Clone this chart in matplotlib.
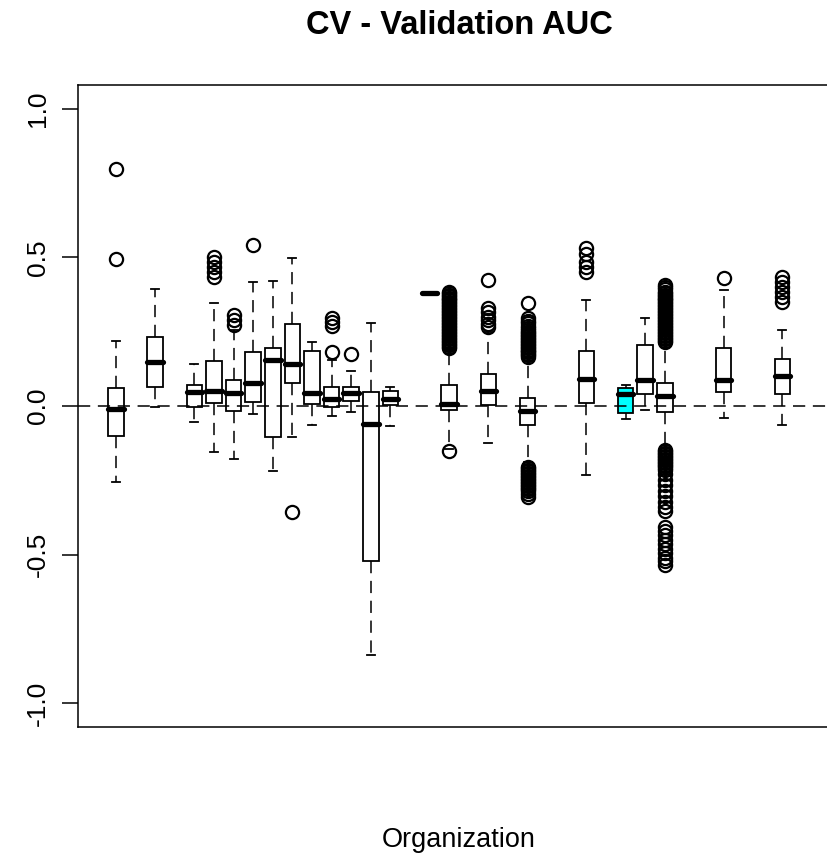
import numpy as np
import matplotlib
matplotlib.use("Agg")
import matplotlib.pyplot as plt

plt.rcParams["font.family"] = ["Liberation Sans", "DejaVu Sans"]

# 36 organisations on the x axis, only some of them have results
n_orgs = 36
positions = [1, 3, 5, 6, 7, 8, 9, 10, 11, 12, 13, 14, 15, 17, 18, 20, 22, 25, 27, 28, 29, 32, 35]

whislo = [-0.255, -0.004, -0.054, -0.155, -0.179, -0.028, -0.220, -0.103, -0.064, -0.034, -0.021,
          -0.838, -0.068, 0.379, -0.143, -0.123, -0.190, -0.232, -0.043, -0.012, -0.140, -0.040, -0.064]
q1 = [-0.100, 0.063, -0.003, 0.011, -0.017, 0.013, -0.104, 0.078, 0.007, -0.003, 0.016,
      -0.520, 0.005, 0.379, -0.014, 0.002, -0.064, 0.011, -0.023, 0.042, -0.019, 0.047, 0.042]
med = [-0.009, 0.148, 0.046, 0.051, 0.044, 0.078, 0.156, 0.141, 0.044, 0.022, 0.044,
       -0.062, 0.025, 0.379, 0.008, 0.052, -0.017, 0.091, 0.039, 0.089, 0.033, 0.087, 0.100]
q3 = [0.059, 0.231, 0.069, 0.153, 0.089, 0.180, 0.195, 0.276, 0.186, 0.063, 0.063,
      0.046, 0.052, 0.379, 0.069, 0.108, 0.027, 0.184, 0.061, 0.206, 0.078, 0.195, 0.159]
whishi = [0.219, 0.393, 0.142, 0.347, 0.255, 0.418, 0.421, 0.499, 0.215, 0.156, 0.117,
          0.279, 0.063, 0.379, 0.190, 0.250, 0.160, 0.357, 0.072, 0.295, 0.205, 0.390, 0.256]

fliers = [
    [0.496, 0.796],
    [],
    [],
    [0.435, 0.452, 0.468, 0.485, 0.500],
    [0.272, 0.288, 0.305],
    [0.541],
    [],
    [-0.358],
    [],
    [0.182, 0.270, 0.281, 0.295],
    [0.175],
    [],
    [],
    [],
    [-0.152,
     0.195, 0.200, 0.205, 0.210, 0.215, 0.220, 0.225, 0.230, 0.235, 0.240,
     0.245, 0.250, 0.255, 0.260, 0.265, 0.270, 0.275, 0.280, 0.285, 0.290,
     0.295, 0.300, 0.305, 0.310, 0.315, 0.320, 0.325, 0.330, 0.335, 0.340,
     0.345, 0.350, 0.355, 0.360, 0.365, 0.370, 0.375, 0.380, 0.385],
    [0.265, 0.275, 0.290, 0.300, 0.315, 0.330, 0.424],
    [0.165, 0.170, 0.175, 0.180, 0.185, 0.190, 0.195, 0.200, 0.205, 0.210,
     0.215, 0.220, 0.225, 0.230, 0.235, 0.240, 0.245, 0.250, 0.255, 0.262,
     0.270, 0.278, 0.287, 0.296, 0.346,
     -0.205, -0.210, -0.215, -0.220, -0.225, -0.230, -0.235, -0.240, -0.245, -0.250,
     -0.255, -0.260, -0.265, -0.270, -0.275, -0.280, -0.287, -0.295, -0.305],
    [0.452, 0.468, 0.485, 0.513, 0.530],
    [],
    [],
    [0.215, 0.220, 0.225, 0.230, 0.235, 0.240, 0.245, 0.250, 0.255, 0.260,
     0.265, 0.270, 0.275, 0.280, 0.285, 0.290, 0.295, 0.300, 0.305, 0.310,
     0.315, 0.320, 0.325, 0.330, 0.335, 0.340, 0.345, 0.350, 0.355, 0.360,
     0.365, 0.370, 0.375, 0.380, 0.385, 0.392, 0.400, 0.408,
     -0.147, -0.152, -0.157, -0.162, -0.167, -0.172, -0.177, -0.182, -0.187, -0.192,
     -0.197, -0.202, -0.207, -0.214, -0.230, -0.248, -0.266, -0.285, -0.304, -0.322,
     -0.340, -0.352,
     -0.406, -0.420, -0.435, -0.450, -0.465, -0.480, -0.495, -0.510, -0.523, -0.535],
    [0.429],
    [0.351, 0.368, 0.385, 0.401, 0.418, 0.435],
]

highlight_org = 27

yticks = [-1.0, -0.5, 0.0, 0.5, 1.0]
ytick_labels = ["-1.0", "-0.5", "0.0", "0.5", "1.0"]

stats = []
for i in range(len(positions)):
    stats.append(dict(whislo=whislo[i], q1=q1[i], med=med[i], q3=q3[i],
                      whishi=whishi[i], fliers=fliers[i]))

fig = plt.figure(figsize=(8.27, 8.57), dpi=100)
# axes run past the right edge of the canvas
ax = fig.add_axes([78 / 827, 130 / 857, 762 / 827, 642 / 857])

dash = (0, (8, 5))
bp = ax.bxp(
    stats,
    positions=positions,
    widths=0.8,
    capwidths=0.4,
    patch_artist=True,
    boxprops=dict(facecolor="white", edgecolor="black", linewidth=1.3),
    whiskerprops=dict(color="black", linewidth=1.1, linestyle=dash),
    capprops=dict(color="black", linewidth=1.3),
    medianprops=dict(color="black", linewidth=3.8, solid_capstyle="round"),
    flierprops=dict(marker="o", markerfacecolor="none", markeredgecolor="black",
                    markersize=9.5, markeredgewidth=1.6),
)
bp["boxes"][positions.index(highlight_org)].set_facecolor("#00ffff")

ax.axhline(0, color="black", linewidth=1.1, linestyle=dash, zorder=5)

ax.set_xlim(0.5 - 0.04 * n_orgs, n_orgs + 0.5 + 0.04 * n_orgs)
ax.set_ylim(-1.08, 1.08)
ax.set_xticks([])
ax.set_yticks(yticks)
ax.set_yticklabels(ytick_labels, rotation=90, va="center", fontsize=19)
ax.tick_params(axis="y", length=11.5, width=1.1, pad=9)
for s in ax.spines.values():
    s.set_linewidth(1.1)

ax.set_title("CV - Validation AUC", fontsize=23.5, fontweight="bold", pad=36.7)
fig.text(459 / 827, 1 - 847 / 857, "Organization", ha="center", va="baseline", fontsize=19.5)

fig.savefig("out.png", dpi=100)
